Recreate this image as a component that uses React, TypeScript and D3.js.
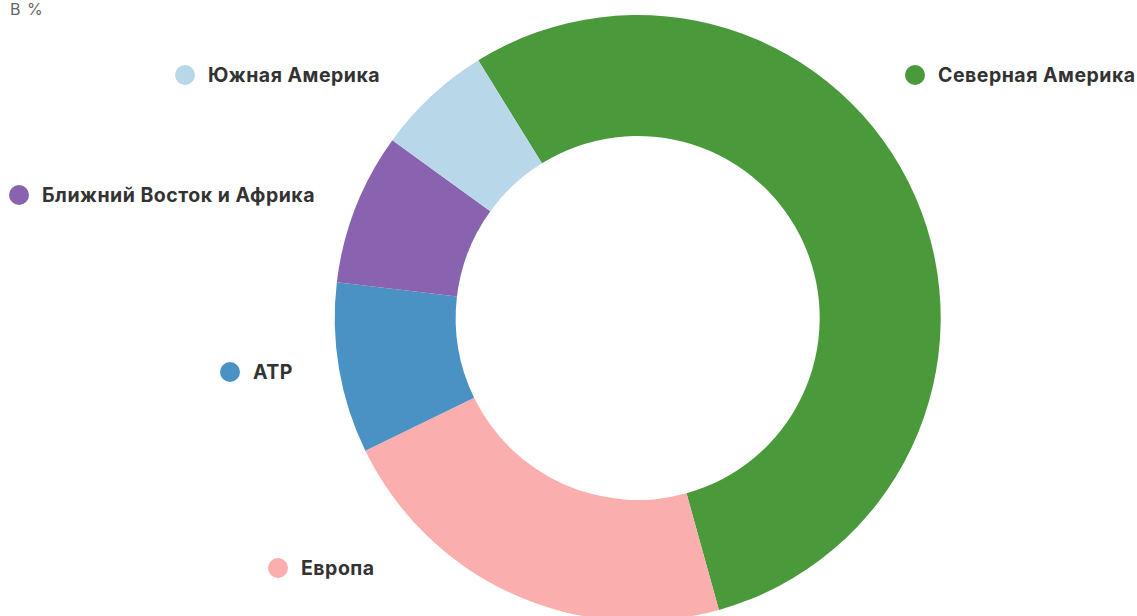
import React from "react";
import * as d3 from "d3";

const categories = ["Северная Америка", "Европа", "АТР", "Ближний Восток и Африка", "Южная Америка"];
const values = [54.5, 22.1, 9.1, 8.1, 6.2];
const colors = ["#4a9a3c", "#fbaeae", "#4a92c4", "#8a63b0", "#b8d8ea"];
const unitLabel = "В %";

// legend layout (x of dot center, y of dot center)
const legendPos: [number, number][] = [
  [915, 75],
  [278, 568],
  [230, 372],
  [19, 195],
  [185, 75],
];

export default function App() {
  const W = 1137, H = 616;
  const cx = 637.7, cy = 318, R = 303, r = 182;
  const start = (-31.75 * Math.PI) / 180;
  const pie = d3.pie<number>().sort(null).value((d) => d).startAngle(start).endAngle(start + 2 * Math.PI);
  const arcs = pie(values);
  const arc = d3.arc<d3.PieArcDatum<number>>().innerRadius(r).outerRadius(R);
  return (
    <svg width={W} height={H} style={{ position: "absolute", left: 0, top: 0 }} fontFamily="Inter, 'Noto Sans', sans-serif">
      <text x={10} y={15} fontSize={16} letterSpacing={1} fill="#666">{unitLabel}</text>
      <g transform={`translate(${cx},${cy})`}>
        {arcs.map((a, i) => (
          <path key={i} d={arc(a) || ""} fill={colors[i]} />
        ))}
      </g>
      {categories.map((c, i) => (
        <g key={c} transform={`translate(${legendPos[i][0]},${legendPos[i][1]})`}>
          <circle r={10} fill={colors[i]} />
          <text x={23} y={7} fontSize={19.5} letterSpacing={0.5} fontWeight={700} fill="#333">{c}</text>
        </g>
      ))}
    </svg>
  );
}
